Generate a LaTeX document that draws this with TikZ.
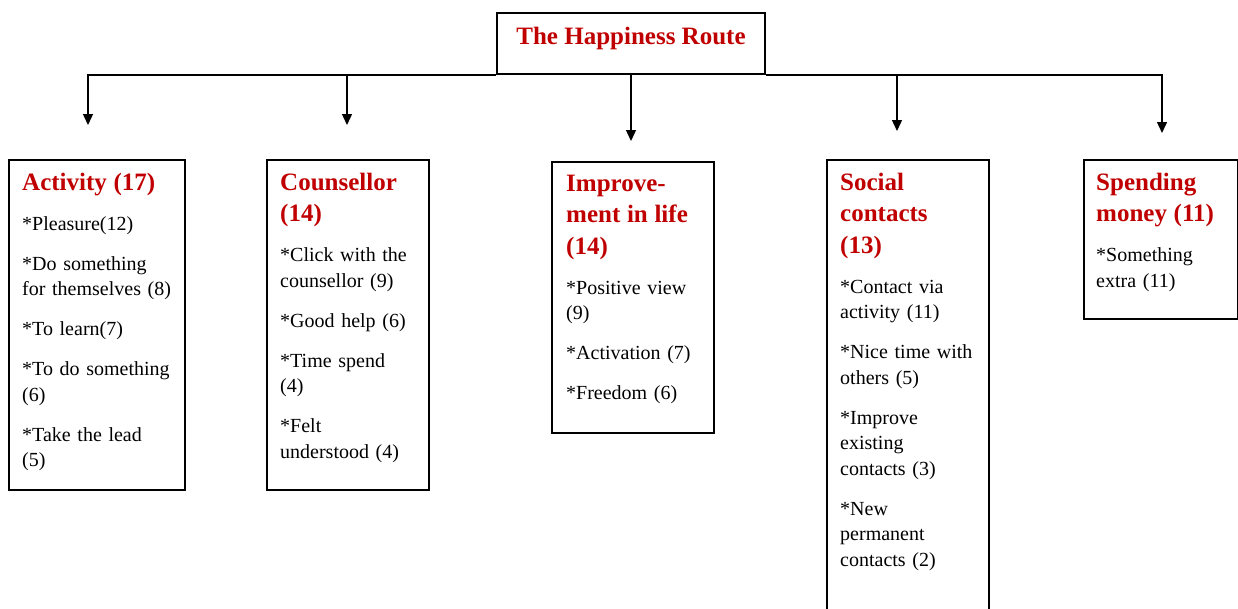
\documentclass[tikz,border=0pt]{standalone}
\usepackage{fontspec}
\setmainfont{Liberation Serif}
\usetikzlibrary{arrows.meta}

\definecolor{hred}{RGB}{192,0,0}
\newcommand{\headfont}{\fontsize{25}{31.5}\selectfont\bfseries\color{hred}}
\newcommand{\bodyfont}{\fontsize{20}{25.5}\selectfont}

\tikzset{
  titlebox/.style={draw, line width=1.7pt, inner xsep=0pt, inner ysep=0pt,
    minimum width=268pt, text height=31pt, text depth=30pt, font=\headfont},
  catbox/.style={draw, line width=1.5pt, inner sep=0pt, anchor=north west},
  cattext/.style={anchor=north west, inner sep=0pt, align=left, font=\bodyfont,
    execute at begin node={\setlength{\parindent}{0pt}\setlength{\parskip}{14.5pt}}},
  arr/.style={line width=1.4pt, -{Triangle[width=10pt,length=11pt]}},
}

\begin{document}
\begin{tikzpicture}[x=1pt,y=-1pt]
    % CLIP EVERYTHING
    \useasboundingbox (0,0) rectangle (1238,608);
    \clip (0,0) rectangle (1238,608);

    % TITLE
    \node[titlebox] (title) at (631,43.5) {The Happiness Route};

    % ARROW TIPS
    \coordinate (tipA) at (88,125);
    \coordinate (tipB) at (347,125);
    \coordinate (tipC) at (631,141);
    \coordinate (tipD) at (897,131);
    \coordinate (tipE) at (1162,133);

    % CONNECTORS
    \draw[arr] (title.south west) -| (tipA);
    \draw[arr] (title.south west -| tipB) -- (tipB);
    \draw[arr] (title.south) -- (tipC);
    \draw[arr] (title.south east -| tipD) -- (tipD);
    \draw[arr] (title.south east) -| (tipE);

    % BOXES
    \node[catbox, minimum width=176pt, minimum height=330pt] (act) at (8,159) {};
    \node[catbox, minimum width=162pt, minimum height=330pt] (coun) at (266,159) {};
    \node[catbox, minimum width=162pt, minimum height=271pt] (impr) at (551,161) {};
    \node[catbox, minimum width=162pt, minimum height=480pt] (soc) at (826,159) {};
    \node[catbox, minimum width=154pt, minimum height=159pt] (spend) at (1083,159) {};

    % TEXTS
    \node[cattext, text width=150pt] (acttxt) at ([xshift=14pt,yshift=-13.5pt]act.north west) {%
      {\headfont Activity (17)\par}
      *Pleasure(12)\par
      *Do something\\for themselves (8)\par
      *To learn(7)\par
      *To do something\\(6)\par
      *Take the lead\\(5)\par};
    \node[cattext, text width=136pt] (countxt) at ([xshift=14pt,yshift=-13.5pt]coun.north west) {%
      {\headfont Counsellor\\(14)\par}
      *Click with the\\counsellor (9)\par
      *Good help (6)\par
      *Time spend\\(4)\par
      *Felt\\understood (4)\par};
    \node[cattext, text width=136pt] (imprtxt) at ([xshift=15pt,yshift=-13.5pt]impr.north west) {%
      {\headfont Improve-\\ment in life\\(14)\par}
      *Positive view\\(9)\par
      *Activation (7)\par
      *Freedom (6)\par};
    \node[cattext, text width=136pt] (soctxt) at ([xshift=14pt,yshift=-13.5pt]soc.north west) {%
      {\headfont Social\\contacts\\(13)\par}
      *Contact via\\activity (11)\par
      *Nice time with\\others (5)\par
      *Improve\\existing\\contacts (3)\par
      *New\\permanent\\contacts (2)\par};
    \node[cattext, text width=128pt] (spendtxt) at ([xshift=13pt,yshift=-13.5pt]spend.north west) {%
      {\headfont Spending\\money (11)\par}
      *Something\\extra (11)\par};

\end{tikzpicture}
\end{document}
